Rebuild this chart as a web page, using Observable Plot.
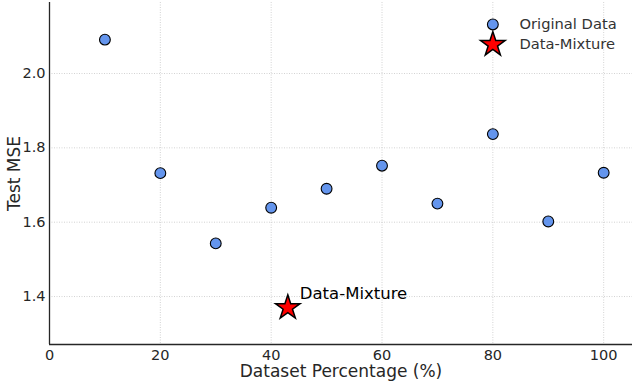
<!DOCTYPE html>
<html><head><meta charset="utf-8">
<script src="https://cdn.jsdelivr.net/npm/d3@7"></script>
<script src="https://cdn.jsdelivr.net/npm/@observablehq/plot@0.6"></script>
<style>body{margin:0;background:#fff;} svg{display:block;}</style>
</head><body><div id="chart"></div>
<script>
const percentages = [10, 20, 30, 40, 50, 60, 70, 80, 90, 100];
const testMSE = [2.091, 1.732, 1.543, 1.639, 1.690, 1.752, 1.650, 1.837, 1.602, 1.733];
const mixturePct = [43];
const mixtureMSE = [1.370];
const xTicks = [0, 20, 40, 60, 80, 100];
const yTicks = [1.4, 1.6, 1.8, 2.0];
const legendLabels = ["Original Data", "Data-Mixture"];

const orig = percentages.map((p, i) => ({x: p, y: testMSE[i]}));
const mix = mixturePct.map((p, i) => ({x: p, y: mixtureMSE[i]}));
const font = "DejaVu Sans";
const xDom = [0, 105.2], yDom = [1.271, 2.191];

const plot = Plot.plot({
  width: 632, height: 384,
  marginLeft: 49, marginRight: 0, marginTop: 2, marginBottom: 40,
  style: {fontFamily: font, background: "#fff"},
  x: {domain: xDom, axis: null},
  y: {domain: yDom, axis: null},
  marks: [
    Plot.ruleX(xTicks.slice(1), {stroke: "#b0b0b0", strokeWidth: 0.8, strokeDasharray: "1,1.5", strokeOpacity: 0.7}),
    Plot.ruleY(yTicks, {stroke: "#b0b0b0", strokeWidth: 0.8, strokeDasharray: "1,1.5", strokeOpacity: 0.7}),
    Plot.ruleX([0], {stroke: "#262626", strokeWidth: 1.3}),
    Plot.ruleY([yDom[0]], {stroke: "#262626", strokeWidth: 1.3}),
    // tick labels
    Plot.text(xTicks, {x: d => d, y: () => yDom[0], text: d => String(d), dy: 10.5, textAnchor: "middle", fontSize: 14.5, fill: "#262626"}),
    Plot.text(yTicks, {x: () => 0, y: d => d, text: d => d.toFixed(1), dx: -4, textAnchor: "end", fontSize: 14.5, fill: "#262626"}),
    Plot.dot(orig, {x: "x", y: "y", r: 5.4, fill: "#6495ED", stroke: "black", strokeWidth: 1.1}),
    Plot.dot(mix, {x: "x", y: "y", symbol: "star", r: 7.7, fill: "red", stroke: "black", strokeWidth: 1.5}),
    Plot.text(mix, {x: "x", y: "y", text: () => "Data-Mixture", dx: 12, dy: -13.5, textAnchor: "start", fontSize: 16.5, fill: "black"}),
    // legend
    Plot.dot([legendLabels[0]], {x: () => 80.0, y: () => 2.132, r: 5.4, fill: "#6495ED", stroke: "black", strokeWidth: 1.1}),
    Plot.dot([legendLabels[1]], {x: () => 80.0, y: () => 2.078, symbol: "star", r: 7.7, fill: "red", stroke: "black", strokeWidth: 1.5}),
    Plot.text([legendLabels[0]], {x: () => 84.8, y: () => 2.132, text: d => d, textAnchor: "start", fontSize: 14.7, fill: "#333"}),
    Plot.text([legendLabels[1]], {x: () => 84.8, y: () => 2.078, text: d => d, textAnchor: "start", fontSize: 14.7, fill: "#333"}),
    // axis titles
    Plot.text(["Test MSE"], {x: () => 0, y: () => (yDom[0] + yDom[1]) / 2, dx: -35, rotate: -90, text: d => d, fontSize: 17, fill: "#262626"}),
    Plot.text(["Dataset Percentage (%)"], {frameAnchor: "bottom", dy: 32, text: d => d, fontSize: 17, fill: "#262626"})
  ]
});
document.getElementById("chart").appendChild(plot);
</script>
</body></html>
